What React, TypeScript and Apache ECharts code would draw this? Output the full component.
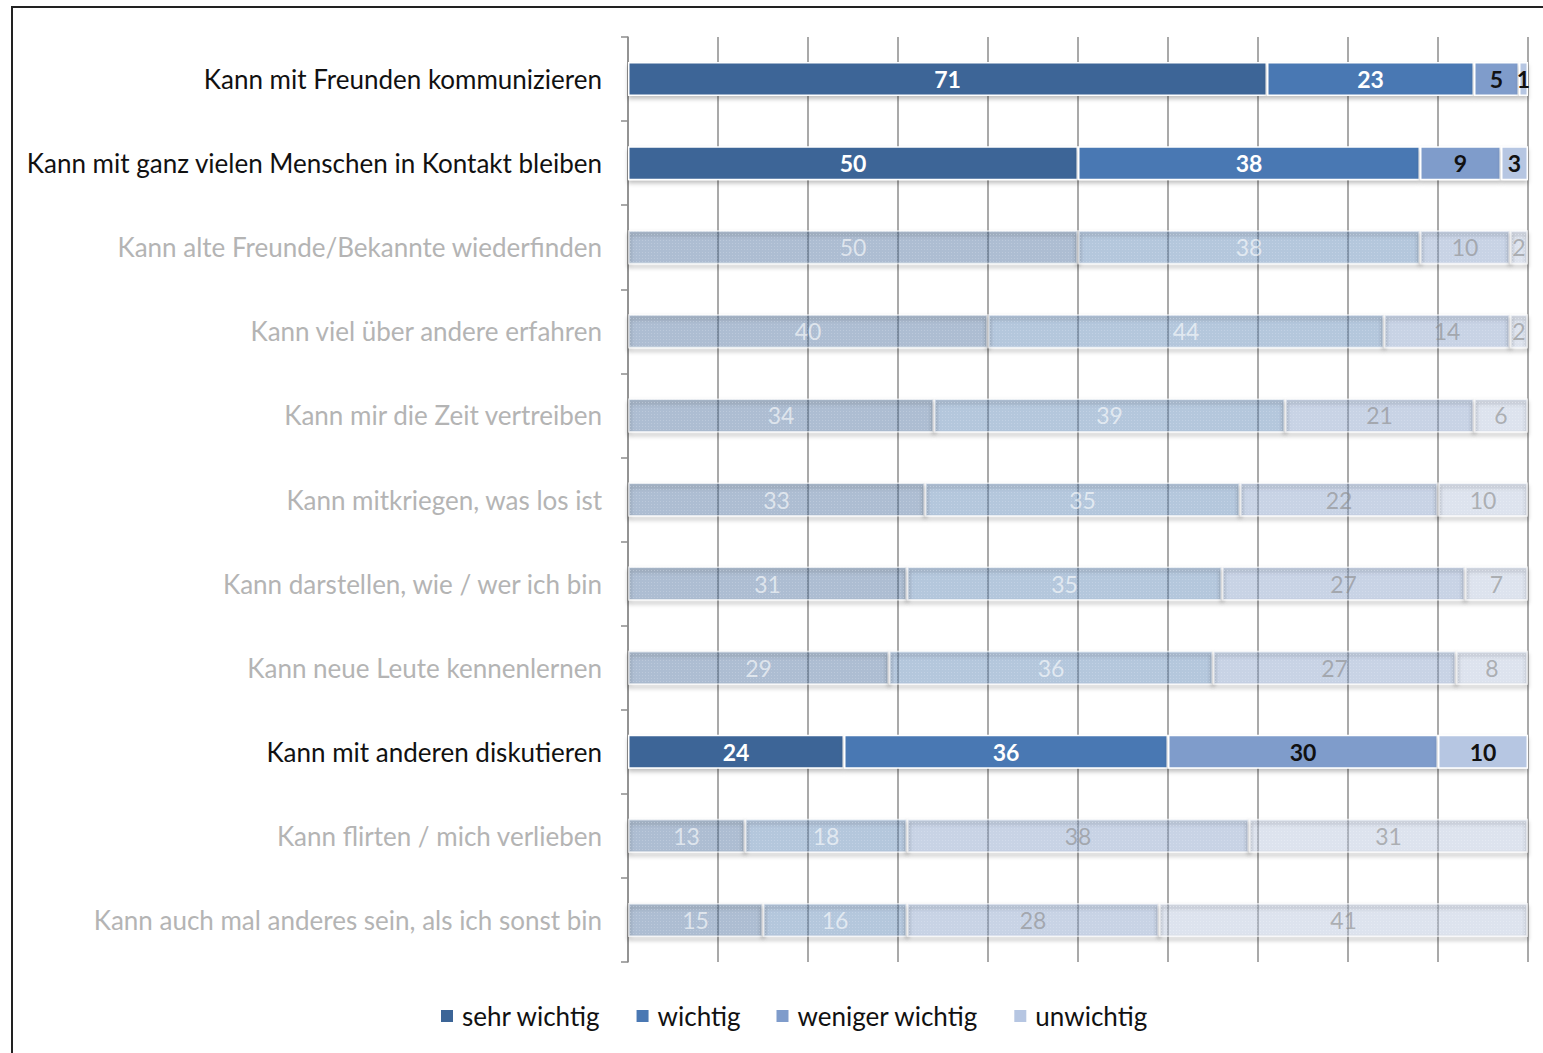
import React, { useEffect, useRef } from "react";
import * as echarts from "echarts";

const categories = [
  "Kann mit Freunden kommunizieren",
  "Kann mit ganz vielen Menschen in Kontakt bleiben",
  "Kann alte Freunde/Bekannte wiederfinden",
  "Kann viel über andere erfahren",
  "Kann mir die Zeit vertreiben",
  "Kann mitkriegen, was los ist",
  "Kann darstellen, wie / wer ich bin",
  "Kann neue Leute kennenlernen",
  "Kann mit anderen diskutieren",
  "Kann flirten / mich verlieben",
  "Kann auch mal anderes sein, als ich sonst bin",
];
const highlighted = [true, true, false, false, false, false, false, false, true, false, false];

const seriesNames = ["sehr wichtig", "wichtig", "weniger wichtig", "unwichtig"];
const sehrWichtig = [71, 50, 50, 40, 34, 33, 31, 29, 24, 13, 15];
const wichtig = [23, 38, 38, 44, 39, 35, 35, 36, 36, 18, 16];
const wenigerWichtig = [5, 9, 10, 14, 21, 22, 27, 27, 30, 38, 28];
const unwichtig = [1, 3, 2, 2, 6, 10, 7, 8, 10, 31, 41];

const seriesValues = [sehrWichtig, wichtig, wenigerWichtig, unwichtig];
const colors = ["#3C6597", "#4A78B3", "#7F9CCB", "#B6C6E2"];
const labelDark = ["#ffffff", "#ffffff", "#111111", "#111111"];
const labelFaded = ["#ffffff", "#ffffff", "#8a8a8a", "#8a8a8a"];

export default function App() {
  const ref = useRef<HTMLDivElement>(null);
  useEffect(() => {
    if (!ref.current) return;
    const chart = echarts.init(ref.current, undefined, { renderer: "svg" });
    const series = seriesValues.map((vals, si) => ({
      name: seriesNames[si],
      type: "bar",
      stack: "total",
      barWidth: 34,
      itemStyle: {
        color: colors[si],
        borderColor: "#ffffff",
        borderWidth: 1.5,
        shadowBlur: 4,
        shadowOffsetY: 3,
        shadowColor: "rgba(0,0,0,0.25)",
      },
      label: {
        show: true,
        position: "inside",
        fontFamily: "Lato",
        fontWeight: "bold",
        fontSize: 23,
      },
      data: vals.map((v, i) => {
        const hl = highlighted[i];
        return {
          value: v,
          itemStyle: hl
            ? {}
            : {
                opacity: 0.38,
                shadowColor: "rgba(0,0,0,0.06)",
                decal: {
                  symbol: "rect",
                  symbolSize: 1,
                  dashArrayX: [1, 2],
                  dashArrayY: [1, 2],
                  color: "rgba(255,255,255,0.4)",
                },
              },
          label: {
            color: hl ? labelDark[si] : labelFaded[si],
            opacity: hl ? 1 : 0.6,
            fontWeight: hl ? "bold" : "normal",
          },
        };
      }),
    }));

    chart.setOption({
      animation: false,
      backgroundColor: "#ffffff",
      grid: { left: 628, right: 15, top: 37, bottom: 91, containLabel: false },
      legend: {
        data: seriesNames,
        left: 434,
        top: 998,
        icon: "rect",
        itemWidth: 14,
        itemHeight: 14,
        itemGap: 34,
        textStyle: { fontFamily: "Lato", fontSize: 26, color: "#111", padding: [0, 0, 0, 3] },
      },
      xAxis: {
        type: "value",
        min: 0,
        max: 100,
        interval: 10,
        axisLabel: { show: false },
        axisLine: { show: false },
        axisTick: { show: false },
        splitLine: { show: true, lineStyle: { color: "#8c8c8c", width: 1.5 } },
      },
      yAxis: {
        type: "category",
        inverse: true,
        data: categories,
        axisLine: { show: true, lineStyle: { color: "#8c8c8c", width: 1.5 } },
        axisTick: { show: true, length: 7, lineStyle: { color: "#8c8c8c", width: 1.5 } },
        axisLabel: {
          margin: 26,
          fontFamily: "Lato",
          fontSize: 26,
          color: (value: string, index: number) =>
            highlighted[index] ? "#111111" : "#b4b4b4",
        },
      },
      series,
      graphic: [
        {
          type: "rect",
          shape: { x: 12, y: 7, width: 1600, height: 1100 },
          style: { fill: "none", stroke: "#222", lineWidth: 2 },
          silent: true,
          z: 100,
        },
      ],
    });
    return () => chart.dispose();
  }, []);
  return (
    <div
      ref={ref}
      style={{ position: "absolute", left: 0, top: 0, width: 1543, height: 1053 }}
    />
  );
}
